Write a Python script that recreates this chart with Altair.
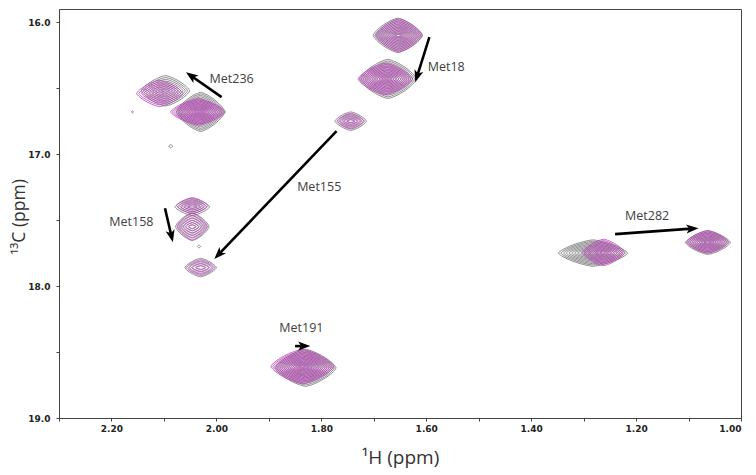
import numpy as np
import pandas as pd
import altair as alt

# ---- peaks (ppm) ----
pk_state = ["grey", "pink", "grey", "pink", "grey", "pink", "grey", "pink",
            "grey", "pink", "grey", "pink", "grey", "pink", "grey", "pink",
            "grey", "pink", "grey", "pink", "grey", "pink", "grey", "grey", "pink"]
pk_h = [1.654, 1.652, 1.673, 1.678, 2.097, 2.108, 2.030, 2.035,
        1.744, 1.744, 2.030, 2.030, 2.046, 2.046, 2.046, 2.046,
        1.830, 1.836, 1.282, 1.262, 1.063, 1.064, 2.087, 2.033, 2.160]
pk_c = [16.10, 16.10, 16.43, 16.43, 16.52, 16.54, 16.68, 16.68,
        16.75, 16.75, 17.86, 17.86, 17.40, 17.39, 17.55, 17.55,
        18.62, 18.61, 17.75, 17.745, 17.67, 17.665, 16.94, 17.70, 16.68]
pk_ah = [0.047, 0.044, 0.054, 0.052, 0.046, 0.044, 0.046, 0.052,
         0.030, 0.026, 0.030, 0.027, 0.033, 0.030, 0.032, 0.029,
         0.058, 0.060, 0.066, 0.040, 0.043, 0.040, 0.004, 0.003, 0.002]
pk_bc = [0.13, 0.125, 0.148, 0.12, 0.115, 0.10, 0.148, 0.10,
         0.07, 0.06, 0.07, 0.06, 0.065, 0.06, 0.105, 0.10,
         0.14, 0.13, 0.10, 0.10, 0.09, 0.085, 0.012, 0.010, 0.008]
pk_n = [12, 11, 13, 12, 9, 8, 14, 12,
        5, 5, 4, 4, 5, 5, 6, 6,
        14, 14, 11, 10, 10, 9, 1, 1, 1]

# ---- arrows (tail -> head, ppm) ----
arr_h1 = [1.990, 1.594, 1.771, 2.098, 1.850, 1.240]
arr_c1 = [16.568, 16.114, 16.826, 17.410, 18.455, 17.606]
arr_h2 = [2.058, 1.621, 2.004, 2.083, 1.821, 1.081]
arr_c2 = [16.379, 16.455, 17.795, 17.667, 18.455, 17.561]

# ---- labels ----
lab_text = ["Met236", "Met18", "Met155", "Met158", "Met191", "Met282"]
lab_h = [1.971, 1.562, 1.804, 2.162, 1.838, 1.179]
lab_c = [16.43, 16.34, 17.25, 17.515, 18.32, 17.47]

# ---- axis ticks ----
x_ticks = [1.00, 1.05, 1.10, 1.15, 1.20, 1.25, 1.30, 1.35, 1.40, 1.45, 1.50,
           1.55, 1.60, 1.65, 1.70, 1.75, 1.80, 1.85, 1.90, 1.95, 2.00, 2.05,
           2.10, 2.15, 2.20, 2.25, 2.30]
y_ticks = [16.0, 16.25, 16.5, 16.75, 17.0, 17.25, 17.5, 17.75, 18.0,
           18.25, 18.5, 18.75, 19.0]

W, H = 682, 409
XD = [1.0, 2.3]
YD = [15.9, 19.0]
pxh = W / (XD[1] - XD[0])
pxc = H / (YD[1] - YD[0])

# contour rings
rows = []
t = np.linspace(0, 2 * np.pi, 73)
p = 1.35
for i in range(len(pk_h)):
    n = pk_n[i]
    for k in range(1, n + 1):
        s = k / n
        a = pk_ah[i] * s ** 0.8
        b = pk_bc[i] * s ** 1.1
        ct, st = np.cos(t), np.sin(t)
        xs = np.sign(ct) * np.abs(ct) ** (2 / p)
        ys = np.sign(st) * np.abs(st) ** (2 / p)
        for j in range(len(t)):
            rows.append({"h": pk_h[i] + a * xs[j], "c": pk_c[i] + b * ys[j],
                         "ring": f"{i}_{k}", "o": j, "state": pk_state[i]})
cont = pd.DataFrame(rows)

# arrows
arows = []
for i in range(len(arr_h1)):
    dx = -(arr_h2[i] - arr_h1[i]) * pxh
    dy = (arr_c2[i] - arr_c1[i]) * pxc
    L = np.hypot(dx, dy)
    ux, uy = dx / L, dy / L
    back = 7.0
    h_end = arr_h2[i] + ux * back / pxh
    c_end = arr_c2[i] - uy * back / pxc
    ang = (np.degrees(np.arctan2(dx, -dy)) + 360) % 360
    arows.append({"h1": arr_h1[i], "c1": arr_c1[i], "he": h_end, "ce": c_end,
                  "h2": arr_h2[i], "c2": arr_c2[i], "ang": ang})
arr = pd.DataFrame(arows)
labs = pd.DataFrame({"t": lab_text, "h": lab_h, "c": lab_c})

xs_ = alt.Scale(domain=XD, reverse=True, nice=False, zero=False)
ys_ = alt.Scale(domain=YD, reverse=True, nice=False, zero=False)

xaxis = alt.Axis(values=x_ticks, tickSize=3, grid=False, labelOverlap=False,
                 labelExpr="abs(datum.value*5 - round(datum.value*5)) < 1e-6 ? format(datum.value, '.2f') : ''",
                 labelFont="DejaVu Sans", labelFontWeight="bold", labelFontSize=9,
                 labelColor="#222222", labelPadding=3, domainColor="#444444",
                 tickColor="#444444", title="¹H (ppm)", titleFont="Open Sans",
                 titleFontSize=19, titleFontWeight="normal", titleColor="#333333",
                 titlePadding=15)
yaxis = alt.Axis(values=y_ticks, tickSize=3, grid=False, labelOverlap=False,
                 labelExpr="abs(datum.value - round(datum.value)) < 1e-6 ? format(datum.value, '.1f') : ''",
                 labelFont="DejaVu Sans", labelFontWeight="bold", labelFontSize=9,
                 labelColor="#222222", labelPadding=6, domainColor="#444444",
                 tickColor="#444444", title="¹³C (ppm)", titleFont="Open Sans",
                 titleFontSize=17.5, titleFontWeight="normal", titleColor="#333333",
                 titleX=-35, titleY=H / 2 + 3, titleAngle=270,
                 titleBaseline="alphabetic", titleAlign="center")

base_x = alt.X("h:Q", scale=xs_, axis=xaxis)
base_y = alt.Y("c:Q", scale=ys_, axis=yaxis)

grey = alt.Chart(cont[cont.state == "grey"]).mark_line(
    strokeWidth=0.8, color="#6c6c6c", clip=True
).encode(x=base_x, y=base_y, detail="ring:N", order="o:Q")

pink = alt.Chart(cont[cont.state == "pink"]).mark_line(
    strokeWidth=0.8, color="#b83cb8", clip=True
).encode(x="h:Q", y="c:Q", detail="ring:N", order="o:Q")

shaft = alt.Chart(arr).mark_rule(strokeWidth=2.6, color="black").encode(
    x="h1:Q", y="c1:Q", x2="he:Q", y2="ce:Q")

head = alt.Chart(arr).mark_point(
    shape="M0,0 L0.75,2 L0,1.5 L-0.75,2 Z", filled=True, color="black",
    opacity=1, size=150, strokeWidth=0
).encode(x="h2:Q", y="c2:Q", angle=alt.Angle("ang:Q", scale=None))

text = alt.Chart(labs).mark_text(font="Open Sans", fontSize=12.5,
                                 color="#404040").encode(x="h:Q", y="c:Q", text="t:N")

chart = alt.layer(grey, pink, shaft, head, text).properties(
    width=W, height=H,
    padding={"left": 51, "top": 1, "right": 7, "bottom": 56},
    autosize=alt.AutoSizeParams(type="none"),
).configure_view(stroke="#444444", strokeWidth=1)

chart.save("out.html", embed_options={"renderer": "svg", "actions": False})
